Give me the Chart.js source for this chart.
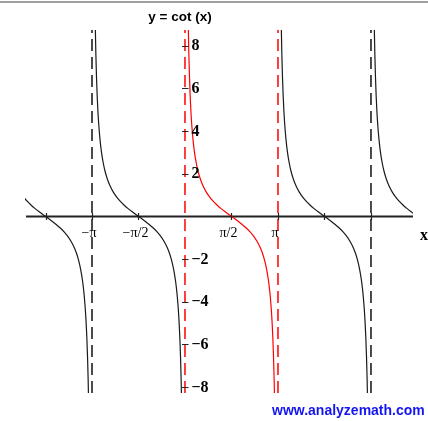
<!DOCTYPE html>
<html>
<head>
<meta charset="utf-8">
<script src="https://cdn.jsdelivr.net/npm/chart.js@4"></script>
<style>
  html, body { margin: 0; padding: 0; background: #fff; overflow: hidden; }
  canvas { display: block; }
</style>
</head>
<body>
<canvas id="c" width="428" height="421"></canvas>
<script>
// One period of y = cot(x): offsets from the left asymptote and the value there
const branchOffsets = [0.10, 0.115, 0.13, 0.15, 0.175, 0.20, 0.23, 0.27, 0.32, 0.38, 0.45, 0.53, 0.62, 0.72, 0.83, 0.95, 1.08, 1.22, 1.37, 1.5708,
  1.7716, 1.9216, 2.0616, 2.1916, 2.3116, 2.4216, 2.5216, 2.6116, 2.6916, 2.7616, 2.8216, 2.8716, 2.9116, 2.9416, 2.9666, 2.9916, 3.0116, 3.0266, 3.0416];
const branchValues = [9.9666, 8.6573, 7.6490, 6.6166, 5.6558, 4.9332, 4.2709, 3.6133, 3.0176, 2.5037, 2.0702, 1.7067, 1.4007, 1.1402, 0.9146, 0.7151, 0.5344, 0.3659, 0.2035, 0,
  -0.2035, -0.3659, -0.5344, -0.7151, -0.9146, -1.1402, -1.4007, -1.7067, -2.0702, -2.5037, -3.0176, -3.6133, -4.2709, -4.9332, -5.6558, -6.6166, -7.6490, -8.6573, -9.9666];

// Left asymptote of each plotted branch
const branchStarts = [-6.2832, -3.1416, 0, 3.1416, 6.2832];
// Vertical asymptotes drawn as dashed lines
const asymptoteX = [-3.1416, 0, 3.1416, 6.2832];

// Axis ticks and labels
const xTickValues = [-4.7124, -3.1416, -1.5708, 1.5708, 3.1416, 4.7124, 6.2832];
const xLabelValues = [-3.1416, -1.5708, 1.5708, 3.1416];
const xLabelTexts = ['\u2212\u03c0', '\u2212\u03c0/2', '\u03c0/2', '\u03c0'];
const yTickValues = [8, 6, 4, 2, -2, -4, -6, -8];
const yLabelTexts = ['8', '6', '4', '2', '\u22122', '\u22124', '\u22126', '\u22128'];

const X_MIN = -5.405, X_MAX = 7.703;
const Y_MIN = -8.28, Y_MAX = 8.74;

const RED = '#ff0000';
const BLACK = '#111111';

const datasets = [];
// dashed asymptotes
asymptoteX.forEach(function (ax) {
  const red = (ax === 0 || ax === 3.1416);
  datasets.push({
    data: [{ x: ax, y: Y_MIN }, { x: ax, y: Y_MAX }],
    showLine: true,
    borderColor: red ? RED : BLACK,
    borderWidth: 1.5,
    borderDash: [12, 6],
    pointRadius: 0,
    order: 2
  });
});
// curve branches
branchStarts.forEach(function (s) {
  const red = (s === 0);
  datasets.push({
    data: branchOffsets.map(function (u, i) { return { x: s + u, y: branchValues[i] }; }),
    showLine: true,
    borderColor: red ? RED : '#1a1a1a',
    borderWidth: 1.2,
    pointRadius: 0,
    cubicInterpolationMode: 'monotone',
    order: 1
  });
});

const axesPlugin = {
  id: 'mathAxes',
  beforeDatasetsDraw(chart) {
    const ctx = chart.ctx;
    const ys = chart.scales.y;
    const y0 = ys.getPixelForValue(0);
    ctx.save();
    // horizontal axis
    ctx.strokeStyle = '#222';
    ctx.lineWidth = 2;
    ctx.beginPath();
    ctx.moveTo(chart.chartArea.left + 1, y0);
    ctx.lineTo(chart.chartArea.right, y0);
    ctx.stroke();
    ctx.restore();
  },
  afterDraw(chart) {
    const ctx = chart.ctx;
    const xs = chart.scales.x, ys = chart.scales.y;
    const y0 = ys.getPixelForValue(0);
    const x0 = xs.getPixelForValue(0);
    ctx.save();
    // tick marks
    ctx.strokeStyle = '#222';
    ctx.lineWidth = 1.2;
    ctx.beginPath();
    xTickValues.forEach(function (v) {
      const px = Math.round(xs.getPixelForValue(v)) + 0.5;
      ctx.moveTo(px, y0 - 3.5);
      ctx.lineTo(px, y0 + 3.5);
    });
    yTickValues.forEach(function (v) {
      const py = Math.round(ys.getPixelForValue(v)) + 0.5;
      ctx.moveTo(x0 - 3, py);
      ctx.lineTo(x0 + 3.5, py);
    });
    ctx.stroke();

    // top frame line
    ctx.fillStyle = '#a0a0a0';
    ctx.fillRect(0, 1, 428, 2);

    ctx.fillStyle = '#000';
    ctx.textBaseline = 'middle';
    // title
    ctx.font = 'bold 13.5px "Liberation Sans", Arial, sans-serif';
    ctx.textAlign = 'center';
    ctx.fillText('y = cot (x)', 180, 17);

    // y labels
    ctx.font = 'bold 16px "Liberation Serif", "Times New Roman", serif';
    ctx.textAlign = 'left';
    yTickValues.forEach(function (v, i) {
      ctx.fillText(yLabelTexts[i], x0 + 6.5, ys.getPixelForValue(v) + 0.5);
    });

    // x labels
    ctx.font = '14px "Liberation Serif", "Times New Roman", serif';
    ctx.textAlign = 'center';
    xLabelValues.forEach(function (v, i) {
      ctx.fillText(xLabelTexts[i], xs.getPixelForValue(v) - 3, y0 + 16.5);
    });

    // axis name
    ctx.font = 'bold 16px "Liberation Serif", "Times New Roman", serif';
    ctx.fillText('x', 424, y0 + 19);

    // site mark
    ctx.font = 'bold 14px "Liberation Sans", Arial, sans-serif';
    ctx.fillStyle = '#1515f0';
    ctx.textAlign = 'left';
    ctx.fillText('www.analyzemath.com', 272, 411.5);
    ctx.restore();
  }
};

new Chart(document.getElementById('c'), {
  type: 'scatter',
  data: { datasets: datasets },
  options: {
    responsive: false,
    animation: false,
    devicePixelRatio: 1,
    layout: { padding: { left: 25, right: 15, top: 30, bottom: 28 } },
    plugins: { legend: { display: false }, tooltip: { enabled: false }, title: { display: false } },
    scales: {
      x: { type: 'linear', display: false, min: X_MIN, max: X_MAX },
      y: { type: 'linear', display: false, min: Y_MIN, max: Y_MAX }
    }
  },
  plugins: [axesPlugin]
});
</script>
</body>
</html>
